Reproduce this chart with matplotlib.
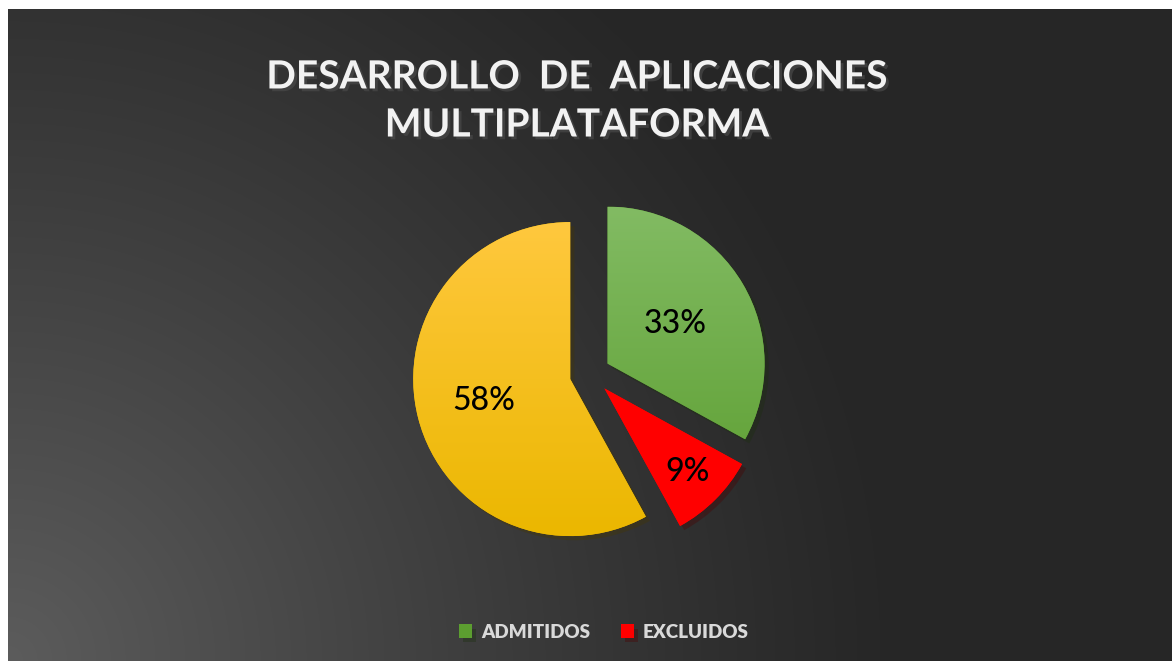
import numpy as np
import matplotlib.pyplot as plt
import matplotlib.patheffects as pe

categorias = ["ADMITIDOS", "EXCLUIDOS", "OTROS"]
valores = [33, 9, 58]
colores_top = ["#82bb63", "#ff0000", "#ffc83e"]
colores_bot = ["#5c9e30", "#ff0000", "#ebb700"]
en_leyenda = [True, True, False]
titulo = "DESARROLLO  DE  APLICACIONES\nMULTIPLATAFORMA"

W, H = 1172, 661
fig = plt.figure(figsize=(W / 100, H / 100), dpi=100, facecolor="white")

# fondo oscuro con brillo abajo a la izquierda
bg = fig.add_axes([8 / W, 0, 1 - 8 / W, 1 - 9 / H])
yy, xx = np.mgrid[0:652, 0:1164]
d = np.sqrt(xx ** 2 + (651 - yy) ** 2)
t = np.clip(1 - d / 900, 0, 1) ** 1.15
g = (38 + (92 - 38) * t) / 255
bg.imshow(np.dstack([g, g, g]), aspect="auto", extent=[0, 1, 0, 1])
bg.axis("off")

# pie
cx, cy, rpx = 590, 374, 157
lim = 1.4
side = 2 * lim * rpx
ax = fig.add_axes([(cx - side / 2) / W, (H - cy - side / 2) / H, side / W, side / H])
ax.set_xlim(-lim, lim)
ax.set_ylim(-lim, lim)
ax.axis("off")

wedges, _ = ax.pie(valores, startangle=90, counterclock=False,
                   explode=[0.13] * 3, colors=colores_bot,
                   wedgeprops=dict(linewidth=0))

dist = [0.5, 0.75, 0.57]
for w, v, ctop, cbot, dd in zip(wedges, valores, colores_top, colores_bot, dist):
    w.set_path_effects([pe.SimplePatchShadow(offset=(3, -3), alpha=0.35), pe.Normal()])
    # degradado vertical recortado a la cuña
    top = np.array(plt.matplotlib.colors.to_rgb(ctop))
    bot = np.array(plt.matplotlib.colors.to_rgb(cbot))
    s = np.linspace(0, 1, 200)[:, None]
    grad = (top * (1 - s) + bot * s)[:, None, :]
    x0, y0 = w.center
    im = ax.imshow(grad, extent=[x0 - 1, x0 + 1, y0 - 1, y0 + 1], aspect="auto", zorder=w.get_zorder() + 0.1)
    im.set_clip_path(w)
    ang = np.deg2rad((w.theta1 + w.theta2) / 2)
    ax.text(x0 + dd * np.cos(ang), y0 + dd * np.sin(ang), f"{v}%",
            ha="center", va="center", fontsize=23, family="Lato", weight="medium",
            color="black", zorder=5)
ax.set_xlim(-lim, lim)
ax.set_ylim(-lim, lim)

fig.text(577 / W, 1 - 101 / H, titulo, ha="center", va="center", fontsize=28,
         family="Lato", weight="bold", color="#f2f2f2", linespacing=1.45,
         path_effects=[pe.withSimplePatchShadow(offset=(2, -2), alpha=0.7)])

handles = [w for w, k in zip(wedges, en_leyenda) if k]
labels = [c for c, k in zip(categorias, en_leyenda) if k]
leg = fig.legend(handles, labels, loc="center", bbox_to_anchor=(604 / W, 1 - 632 / H),
                 ncol=2, frameon=False, handlelength=0.7, handleheight=0.7,
                 handletextpad=0.5, columnspacing=1.6,
                 prop=dict(family="Lato", size=13.5, weight="heavy"))
for txt in leg.get_texts():
    txt.set_color("#d9d9d9")

plt.savefig("out.png", dpi=100, facecolor=fig.get_facecolor())
